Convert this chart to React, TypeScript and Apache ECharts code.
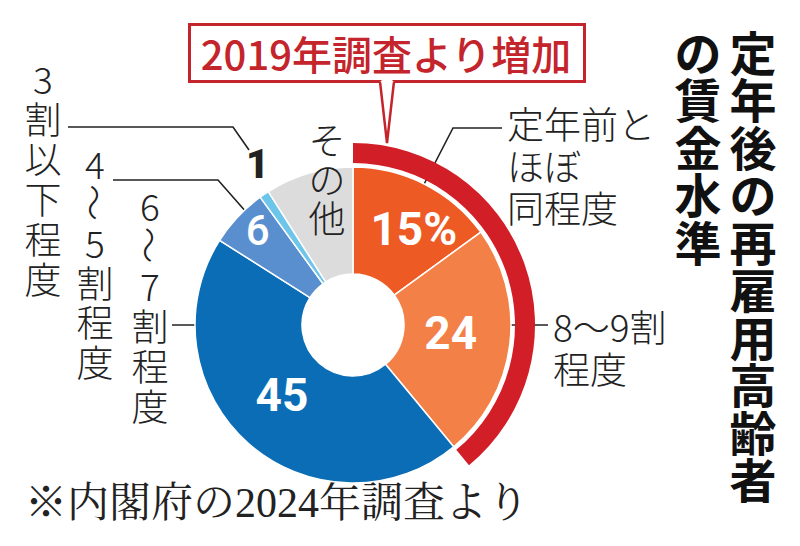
import React, { useEffect, useRef } from 'react';
import * as echarts from 'echarts';

// ---- data ----
const categories = ['定年前とほぼ同程度', '8〜9割程度', '6〜7割程度', '4〜5割程度', '3割以下程度', 'その他'];
const values = [15, 24, 45, 6, 1, 9];
const valueLabels = ['15%', '24', '45', '6', '1', 'その他'];
const increasedCount = 2; // first slices that increased since 2019
const titleColumns = ['定年後の再雇用高齢者', 'の賃金水準'];
const calloutText = '2019年調査より増加';
const footnoteText = '※内閣府の2024年調査より';

// ---- styles ----
const sliceColors = ['#EE5A24', '#F38046', '#0B6DB6', '#5A8FCF', '#6DC5EA', '#DCDCDC'];
const RED = '#D21E26';
const INK = '#222222';
const JP = "'Noto Sans CJK JP', sans-serif";
const NUM = "'Liberation Sans Narrow', 'Roboto', sans-serif";
const labelNudges: number[][] = [[12, 0], [-9, -5], [0, -11], [-17, -21], [-35, -72], [4, -44]];

function vColumn(text: string, x: number, y0: number, step: number, style: any) {
  return Array.from(text).map((ch, i) => ({
    type: 'text',
    x,
    y: y0 + i * step,
    rotation: ch === '〜' ? -Math.PI / 2 : 0,
    style: { text: ch, align: 'center', verticalAlign: 'middle', lineHeight: step - 2, ...style },
  }));
}

function labelStyle(i: number) {
  if (i === 4) return { color: INK, fontSize: 40, fontWeight: 900, fontFamily: 'Roboto' };
  if (i === 5) return { color: INK, fontSize: 37, lineHeight: 39, fontWeight: 300, fontFamily: JP };
  if (i === 3) return { color: '#fff', fontSize: 42, fontWeight: 500, fontFamily: 'Roboto' };
  return { color: '#fff', fontSize: 46, fontWeight: 'bold', fontFamily: NUM };
}

export default function App() {
  const ref = useRef<HTMLDivElement>(null);
  useEffect(() => {
    if (!ref.current) return;
    const chart = echarts.init(ref.current, null, { renderer: 'svg' });
    const increased = values.slice(0, increasedCount).reduce((a, b) => a + b, 0);
    const total = values.reduce((a, b) => a + b, 0);
    const labelStyleCommon = { fontSize: 37, fontWeight: 300, fill: INK, fontFamily: JP };
    const rightLabel = { align: 'left', verticalAlign: 'middle', lineHeight: 40, ...labelStyleCommon };
    const titleStyle = { fontSize: 47, fontWeight: 'bold', fill: '#111', fontFamily: JP };

    const graphics: any[] = [
      // left vertical category labels
      ...vColumn('3割以下程度', 43, 78, 40, labelStyleCommon),
      ...vColumn('4〜5割程度', 95, 163, 39.5, labelStyleCommon),
      ...vColumn('6〜7割程度', 150, 205, 40, labelStyleCommon),
      // title
      ...vColumn(titleColumns[0], 753, 50, 47.5, titleStyle),
      ...vColumn(titleColumns[1], 698, 50, 47.5, titleStyle),
      // right labels
      { type: 'text', x: 507, y: 123, style: { text: '定年前と', ...rightLabel } },
      { type: 'text', x: 507, y: 165, style: { text: 'ほぼ', ...rightLabel } },
      { type: 'text', x: 507, y: 207, style: { text: '同程度', ...rightLabel } },
      { type: 'text', x: 553, y: 326, style: { text: '8〜9割', ...rightLabel } },
      { type: 'text', x: 553, y: 368, style: { text: '程度', ...rightLabel } },
      // leader lines
      { type: 'polyline', shape: { points: [[68, 127], [233, 127], [249, 150]] }, style: { stroke: INK, lineWidth: 1.6, fill: 'none' } },
      { type: 'polyline', shape: { points: [[113, 180], [218, 180], [247, 213]] }, style: { stroke: INK, lineWidth: 1.6, fill: 'none' } },
      { type: 'polyline', shape: { points: [[172, 325], [207, 325]] }, style: { stroke: INK, lineWidth: 1.6, fill: 'none' } },
      { type: 'polyline', shape: { points: [[502, 128], [453, 128], [420, 192]] }, style: { stroke: INK, lineWidth: 1.6, fill: 'none' } },
      { type: 'polyline', shape: { points: [[500, 325], [548, 325]] }, style: { stroke: INK, lineWidth: 1.6, fill: 'none' } },
      // callout
      { type: 'rect', shape: { x: 189.5, y: 24.5, width: 395, height: 57 }, style: { fill: '#fff', stroke: '#C4242B', lineWidth: 3 } },
      { type: 'polygon', shape: { points: [[380, 81], [394, 81], [387, 143]] }, style: { fill: '#fff' } },
      { type: 'polyline', shape: { points: [[380, 81.5], [387, 143], [394, 81.5]] }, style: { stroke: '#C4242B', lineWidth: 2.5, fill: 'none' } },
      { type: 'rect', shape: { x: 381.5, y: 78, width: 11, height: 5 }, style: { fill: '#fff' } },
      { type: 'text', x: 386, y: 53, style: { text: calloutText, align: 'center', verticalAlign: 'middle', fontSize: 40, fontWeight: 500, fill: '#C4242B', fontFamily: JP } },
      // footnote
      { type: 'text', x: 25, y: 503, style: { text: footnoteText, align: 'left', verticalAlign: 'middle', fontSize: 42, fill: INK, fontFamily: "'Liberation Serif', 'Noto Serif CJK JP', serif" } },
    ];

    chart.setOption({
      animation: false,
      backgroundColor: '#ffffff',
      series: [
        {
          type: 'pie',
          center: [353, 325],
          radius: [51, 158],
          startAngle: 90,
          clockwise: true,
          avoidLabelOverlap: false,
          silent: true,
          itemStyle: { borderColor: '#fff', borderWidth: 1.5 },
          labelLine: { show: false },
          label: { show: true, position: 'inside' },
          labelLayout: (p: any) => ({ dx: labelNudges[p.dataIndex][0], dy: labelNudges[p.dataIndex][1] }),
          data: categories.map((name, i) => ({
            name,
            value: values[i],
            itemStyle: { color: sliceColors[i] },
            label: {
              formatter: i === 5 ? Array.from(valueLabels[i]).join('\n') : valueLabels[i],
              ...labelStyle(i),
            },
          })),
        },
        {
          type: 'pie',
          center: [353, 325],
          radius: [162, 182],
          startAngle: 90,
          clockwise: true,
          silent: true,
          label: { show: false },
          labelLine: { show: false },
          data: [
            { name: '増加', value: increased, itemStyle: { color: RED } },
            { name: 'rest', value: total - increased, itemStyle: { color: 'rgba(0,0,0,0)' } },
          ],
        },
      ],
      graphic: graphics,
    });
    return () => chart.dispose();
  }, []);
  return <div ref={ref} style={{ position: 'fixed', left: 0, top: 0, width: 800, height: 546 }} />;
}
